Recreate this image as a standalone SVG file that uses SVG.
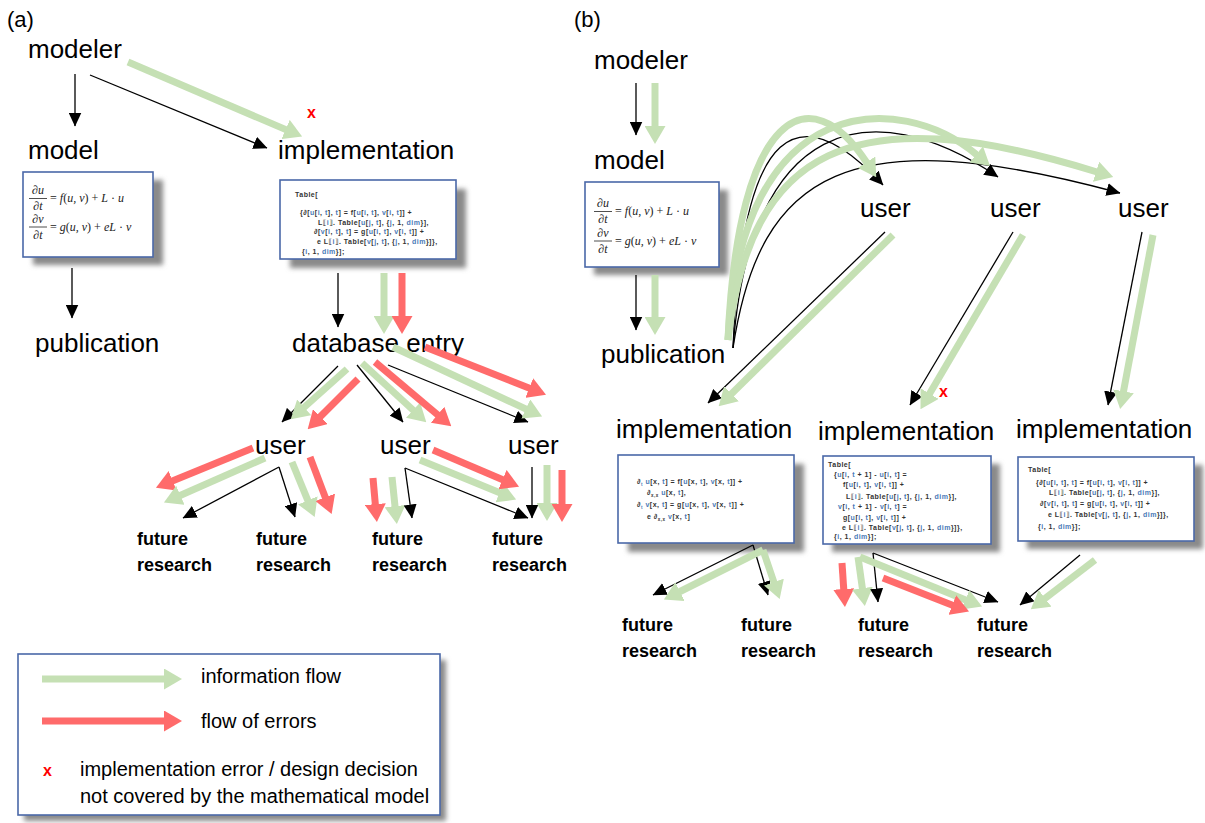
<svg xmlns="http://www.w3.org/2000/svg" width="1205" height="823" viewBox="0 0 1205 823">
<style>
.lbl{font-family:"Liberation Sans",Arial,sans-serif;font-size:26px;fill:#000}
.pl{font-family:"Liberation Sans",Arial,sans-serif;font-size:22px;fill:#000}
.fr{font-family:"Liberation Sans",Arial,sans-serif;font-size:18px;font-weight:bold;fill:#000}
.leg{font-family:"Liberation Sans",Arial,sans-serif;font-size:20px;fill:#000}
.box{fill:#fff;stroke:#4a68a8;stroke-width:1.6}
.shd{fill:#8a8a8a;filter:url(#sh)}
.k{stroke:#000;stroke-width:1.3;fill:none;marker-end:url(#ak)}
.g{stroke:#c5e0b4;stroke-width:7;fill:none;marker-end:url(#ag)}
.r{stroke:#ff6b6b;stroke-width:7;fill:none;marker-end:url(#ar)}
.cd{font-family:"Liberation Sans","DejaVu Sans",sans-serif;font-size:7px;font-weight:bold;letter-spacing:0.5px;fill:#333}
.v{fill:#4a7ab8}
.eq{font-family:"Liberation Serif","DejaVu Serif",serif;font-size:12px;font-style:italic;fill:#222}
.fl{stroke:#222;stroke-width:0.8}
.x{font-family:"Liberation Sans",Arial,sans-serif;font-size:16px;font-weight:bold;fill:#f00}
</style>
<defs>
<filter id="sh" x="-20%" y="-20%" width="140%" height="140%"><feGaussianBlur stdDeviation="2.5"/></filter>
<marker id="ak" markerUnits="userSpaceOnUse" markerWidth="14" markerHeight="13" viewBox="0 0 14 13" refX="13.5" refY="6.5" orient="auto"><path d="M0,0 L14,6.5 L0,13 z" fill="#000"/></marker>
<marker id="ag" markerUnits="userSpaceOnUse" markerWidth="18" markerHeight="21" viewBox="0 0 18 21" refX="1" refY="10.5" orient="auto"><path d="M0,0 L18,10.5 L0,21 z" fill="#c5e0b4"/></marker>
<marker id="ar" markerUnits="userSpaceOnUse" markerWidth="18" markerHeight="21" viewBox="0 0 18 21" refX="1" refY="10.5" orient="auto"><path d="M0,0 L18,10.5 L0,21 z" fill="#ff6b6b"/></marker>
</defs>
<rect width="1205" height="823" fill="#fff"/>

<text class="pl" x="7" y="27">(a)</text>
<text class="pl" x="574" y="27">(b)</text>

<!-- panel (a) nodes -->
<g id="a-modeler"><text class="lbl" x="28" y="58">modeler</text></g>
<g id="a-model"><text class="lbl" x="28" y="159">model</text></g>
<g id="a-model-eq">
<rect class="shd" x="33" y="180" width="130" height="85"/>
<rect class="box" x="23" y="172" width="130" height="85"/>
<text class="eq" x="38" y="194" text-anchor="middle">∂u</text>
<line class="fl" x1="29" y1="198.5" x2="47" y2="198.5"/>
<text class="eq" x="38" y="209.5" text-anchor="middle">∂t</text>
<text class="eq" x="50" y="202"><tspan font-style="normal">= </tspan>f<tspan font-style="normal">(</tspan>u, v<tspan font-style="normal">) + </tspan>L<tspan font-style="normal"> · </tspan>u</text>
<text class="eq" x="38" y="223" text-anchor="middle">∂v</text>
<line class="fl" x1="29" y1="227" x2="47" y2="227"/>
<text class="eq" x="38" y="238.5" text-anchor="middle">∂t</text>
<text class="eq" x="50" y="231"><tspan font-style="normal">= </tspan>g<tspan font-style="normal">(</tspan>u, v<tspan font-style="normal">) + </tspan>eL<tspan font-style="normal"> · </tspan>v</text>
</g>
<g id="a-implementation"><text class="lbl" x="278" y="159">implementation</text></g>
<g id="a-impl-code">
<rect class="shd" x="290" y="189" width="176" height="79"/>
<rect class="box" x="280" y="180" width="176" height="79"/>
<text class="cd" x="295" y="197">Table[</text>
<text class="cd" x="300" y="215">{∂[<tspan class="v">u</tspan>[<tspan class="v">i</tspan>, <tspan class="v">t</tspan>], <tspan class="v">t</tspan>] = f[<tspan class="v">u</tspan>[<tspan class="v">i</tspan>, <tspan class="v">t</tspan>], <tspan class="v">v</tspan>[<tspan class="v">i</tspan>, <tspan class="v">t</tspan>]] +</text>
<text class="cd" x="318" y="225">L⟦<tspan class="v">i</tspan>⟧. Table[<tspan class="v">u</tspan>[<tspan class="v">j</tspan>, <tspan class="v">t</tspan>], {<tspan class="v">j</tspan>, 1, <tspan class="v">dim</tspan>}],</text>
<text class="cd" x="314" y="234">∂[<tspan class="v">v</tspan>[<tspan class="v">i</tspan>, <tspan class="v">t</tspan>], <tspan class="v">t</tspan>] = g[<tspan class="v">u</tspan>[<tspan class="v">i</tspan>, <tspan class="v">t</tspan>], <tspan class="v">v</tspan>[<tspan class="v">i</tspan>, <tspan class="v">t</tspan>]] +</text>
<text class="cd" x="317" y="244">e L⟦<tspan class="v">i</tspan>⟧. Table[<tspan class="v">v</tspan>[<tspan class="v">j</tspan>, <tspan class="v">t</tspan>], {<tspan class="v">j</tspan>, 1, <tspan class="v">dim</tspan>}]},</text>
<text class="cd" x="302" y="254">{<tspan class="v">i</tspan>, 1, <tspan class="v">dim</tspan>}];</text>
</g>
<g id="a-publication"><text class="lbl" x="35" y="352">publication</text></g>
<g id="a-database"><text class="lbl" x="292" y="352">database entry</text></g>
<g id="a-user1"><text class="lbl" x="255" y="454">user</text></g>
<g id="a-user2"><text class="lbl" x="380" y="454">user</text></g>
<g id="a-user3"><text class="lbl" x="508" y="454">user</text></g>
<g id="a-fr1"><text class="fr" x="137" y="545">future</text><text class="fr" x="137" y="571">research</text></g>
<g id="a-fr2"><text class="fr" x="256" y="545">future</text><text class="fr" x="256" y="571">research</text></g>
<g id="a-fr3"><text class="fr" x="372" y="545">future</text><text class="fr" x="372" y="571">research</text></g>
<g id="a-fr4"><text class="fr" x="492" y="545">future</text><text class="fr" x="492" y="571">research</text></g>
<text class="x" x="307" y="118">x</text>

<!-- panel (b) nodes -->
<g id="b-modeler"><text class="lbl" x="594" y="69">modeler</text></g>
<g id="b-model"><text class="lbl" x="594" y="169">model</text></g>
<g id="b-model-eq">
<rect class="shd" x="594" y="190" width="134" height="85"/>
<rect class="box" x="585" y="182" width="134" height="85"/>
<text class="eq" x="603" y="207" text-anchor="middle">∂u</text>
<line class="fl" x1="594" y1="211.5" x2="612" y2="211.5"/>
<text class="eq" x="603" y="222.5" text-anchor="middle">∂t</text>
<text class="eq" x="615" y="215"><tspan font-style="normal">= </tspan>f<tspan font-style="normal">(</tspan>u, v<tspan font-style="normal">) + </tspan>L<tspan font-style="normal"> · </tspan>u</text>
<text class="eq" x="603" y="237" text-anchor="middle">∂v</text>
<line class="fl" x1="594" y1="241" x2="612" y2="241"/>
<text class="eq" x="603" y="252.5" text-anchor="middle">∂t</text>
<text class="eq" x="615" y="245"><tspan font-style="normal">= </tspan>g<tspan font-style="normal">(</tspan>u, v<tspan font-style="normal">) + </tspan>eL<tspan font-style="normal"> · </tspan>v</text>
</g>
<g id="b-publication"><text class="lbl" x="601" y="363">publication</text></g>
<g id="b-user1"><text class="lbl" x="860" y="217">user</text></g>
<g id="b-user2"><text class="lbl" x="990" y="217">user</text></g>
<g id="b-user3"><text class="lbl" x="1118" y="217">user</text></g>
<g id="b-impl1"><text class="lbl" x="616" y="438">implementation</text></g>
<g id="b-impl2"><text class="lbl" x="818" y="440">implementation</text></g>
<g id="b-impl3"><text class="lbl" x="1016" y="438">implementation</text></g>
<g id="b-code1">
<rect class="shd" x="628" y="464" width="176" height="88"/>
<rect class="box" x="618" y="455" width="176" height="88"/>
<text class="cd" x="637" y="484">∂<tspan font-size="4.5" dy="1.5" class="v">t</tspan><tspan dy="-1.5"> </tspan><tspan class="v">u</tspan>[x, <tspan class="v">t</tspan>] = f[<tspan class="v">u</tspan>[x, <tspan class="v">t</tspan>], <tspan class="v">v</tspan>[x, <tspan class="v">t</tspan>]] +</text>
<text class="cd" x="647" y="495">∂<tspan font-size="4.5" dy="1.5">x,x</tspan><tspan dy="-1.5"> </tspan><tspan class="v">u</tspan>[x, <tspan class="v">t</tspan>],</text>
<text class="cd" x="637" y="507">∂<tspan font-size="4.5" dy="1.5" class="v">t</tspan><tspan dy="-1.5"> </tspan><tspan class="v">v</tspan>[x, <tspan class="v">t</tspan>] = g[<tspan class="v">u</tspan>[x, <tspan class="v">t</tspan>], <tspan class="v">v</tspan>[x, <tspan class="v">t</tspan>]] +</text>
<text class="cd" x="647" y="519">e ∂<tspan font-size="4.5" dy="1.5">x,x</tspan><tspan dy="-1.5"> </tspan><tspan class="v">v</tspan>[x, <tspan class="v">t</tspan>]</text>
</g>
<g id="b-code2">
<rect class="shd" x="832" y="464" width="168" height="88"/>
<rect class="box" x="823" y="456" width="168" height="88"/>
<text class="cd" x="828" y="467">Table[</text>
<text class="cd" x="834" y="477">{<tspan class="v">u</tspan>[<tspan class="v">i</tspan>, <tspan class="v">t</tspan> + 1] - <tspan class="v">u</tspan>[<tspan class="v">i</tspan>, <tspan class="v">t</tspan>] =</text>
<text class="cd" x="843" y="487">f[<tspan class="v">u</tspan>[<tspan class="v">i</tspan>, <tspan class="v">t</tspan>], <tspan class="v">v</tspan>[<tspan class="v">i</tspan>, <tspan class="v">t</tspan>]] +</text>
<text class="cd" x="846" y="499">L⟦<tspan class="v">i</tspan>⟧. Table[<tspan class="v">u</tspan>[<tspan class="v">j</tspan>, <tspan class="v">t</tspan>], {<tspan class="v">j</tspan>, 1, <tspan class="v">dim</tspan>}],</text>
<text class="cd" x="838" y="509"><tspan class="v">v</tspan>[<tspan class="v">i</tspan>, <tspan class="v">t</tspan> + 1] - <tspan class="v">v</tspan>[<tspan class="v">i</tspan>, <tspan class="v">t</tspan>] =</text>
<text class="cd" x="843" y="520">g[<tspan class="v">u</tspan>[<tspan class="v">i</tspan>, <tspan class="v">t</tspan>], <tspan class="v">v</tspan>[<tspan class="v">i</tspan>, <tspan class="v">t</tspan>]] +</text>
<text class="cd" x="842" y="530">e L⟦<tspan class="v">i</tspan>⟧. Table[<tspan class="v">v</tspan>[<tspan class="v">j</tspan>, <tspan class="v">t</tspan>], {<tspan class="v">j</tspan>, 1, <tspan class="v">dim</tspan>}]},</text>
<text class="cd" x="834" y="539">{<tspan class="v">i</tspan>, 1, <tspan class="v">dim</tspan>}];</text>
</g>
<g id="b-code3">
<rect class="shd" x="1027" y="465" width="176" height="84"/>
<rect class="box" x="1018" y="457" width="176" height="84"/>
<text class="cd" x="1028" y="472">Table[</text>
<text class="cd" x="1036" y="485">{∂[<tspan class="v">u</tspan>[<tspan class="v">i</tspan>, <tspan class="v">t</tspan>], <tspan class="v">t</tspan>] = f[<tspan class="v">u</tspan>[<tspan class="v">i</tspan>, <tspan class="v">t</tspan>], <tspan class="v">v</tspan>[<tspan class="v">i</tspan>, <tspan class="v">t</tspan>]] +</text>
<text class="cd" x="1049" y="495">L⟦<tspan class="v">i</tspan>⟧. Table[<tspan class="v">u</tspan>[<tspan class="v">j</tspan>, <tspan class="v">t</tspan>], {<tspan class="v">j</tspan>, 1, <tspan class="v">dim</tspan>}],</text>
<text class="cd" x="1040" y="506">∂[<tspan class="v">v</tspan>[<tspan class="v">i</tspan>, <tspan class="v">t</tspan>], <tspan class="v">t</tspan>] = g[<tspan class="v">u</tspan>[<tspan class="v">i</tspan>, <tspan class="v">t</tspan>], <tspan class="v">v</tspan>[<tspan class="v">i</tspan>, <tspan class="v">t</tspan>]] +</text>
<text class="cd" x="1048" y="517">e L⟦<tspan class="v">i</tspan>⟧. Table[<tspan class="v">v</tspan>[<tspan class="v">j</tspan>, <tspan class="v">t</tspan>], {<tspan class="v">j</tspan>, 1, <tspan class="v">dim</tspan>}]},</text>
<text class="cd" x="1038" y="529">{<tspan class="v">i</tspan>, 1, <tspan class="v">dim</tspan>}];</text>
</g>
<g id="b-fr1"><text class="fr" x="622" y="631">future</text><text class="fr" x="622" y="657">research</text></g>
<g id="b-fr2"><text class="fr" x="741" y="631">future</text><text class="fr" x="741" y="657">research</text></g>
<g id="b-fr3"><text class="fr" x="858" y="631">future</text><text class="fr" x="858" y="657">research</text></g>
<g id="b-fr4"><text class="fr" x="977" y="631">future</text><text class="fr" x="977" y="657">research</text></g>
<text class="x" x="939" y="397">x</text>

<!-- connectors -->
<g id="connectors">
<!-- (a) -->
<line class="k" x1="75" y1="74" x2="75" y2="126"/>
<line class="k" x1="90" y1="75" x2="267" y2="148"/>
<line class="g" x1="128" y1="62" x2="286.5" y2="129.9"/>
<line class="k" x1="72" y1="268" x2="72" y2="318"/>
<line class="k" x1="338" y1="273" x2="338" y2="327"/>
<line class="g" x1="384" y1="273" x2="384" y2="317"/>
<line class="r" x1="402" y1="273" x2="402" y2="317"/>
<line class="k" x1="338" y1="366" x2="282" y2="422"/>
<line class="g" x1="347" y1="369" x2="303.4" y2="408"/>
<line class="r" x1="358" y1="379" x2="319.7" y2="417.3"/>
<line class="k" x1="357" y1="365" x2="403" y2="422"/>
<line class="g" x1="362" y1="363" x2="413.8" y2="410.8"/>
<line class="r" x1="375" y1="362" x2="438.3" y2="415.4"/>
<line class="k" x1="388" y1="365" x2="528" y2="422"/>
<line class="g" x1="393" y1="347" x2="526.7" y2="409.4"/>
<line class="r" x1="425" y1="347" x2="530.2" y2="388.4"/>
<line class="r" x1="253" y1="448" x2="171.7" y2="481.2"/>
<line class="g" x1="265" y1="458" x2="179.5" y2="495.7"/>
<line class="k" x1="279" y1="467" x2="183" y2="518"/>
<line class="k" x1="279" y1="467" x2="295" y2="517"/>
<line class="g" x1="292" y1="462" x2="308.2" y2="501.3"/>
<line class="r" x1="310" y1="457" x2="325.6" y2="498.2"/>
<line class="r" x1="373" y1="478" x2="375.4" y2="505.1"/>
<line class="g" x1="392" y1="477" x2="395.1" y2="507.1"/>
<line class="k" x1="405" y1="468" x2="412" y2="518"/>
<line class="k" x1="405" y1="468" x2="528" y2="518"/>
<line class="g" x1="420" y1="460" x2="500.4" y2="493.1"/>
<line class="r" x1="433" y1="450" x2="503.4" y2="480"/>
<line class="k" x1="532" y1="467" x2="532" y2="518"/>
<line class="g" x1="547" y1="465" x2="547" y2="504"/>
<line class="r" x1="562" y1="470" x2="562" y2="505"/>
<!-- (b) -->
<line class="k" x1="636" y1="83" x2="636" y2="135"/>
<line class="g" x1="655" y1="83" x2="655" y2="127"/>
<line class="k" x1="636" y1="275" x2="636" y2="330"/>
<line class="g" x1="655" y1="275" x2="655" y2="318"/>
<path class="k" d="M733,348 C742,120 800,95 883,185"/>
<path class="k" d="M733,348 C750,120 870,90 998,177"/>
<path class="k" d="M733,348 C760,170 850,120 1120,193"/>
<path class="g" d="M728,340 C738,110 810,75 867,163"/>
<path class="g" d="M728,340 C740,90 900,90 977,155"/>
<path class="g" d="M728,340 C750,150 850,95 1097,172"/>
<line class="k" x1="885" y1="232" x2="708" y2="403"/>
<line class="g" x1="893" y1="235" x2="730.8" y2="394.4"/>
<line class="k" x1="1013" y1="232" x2="910" y2="405"/>
<line class="g" x1="1023" y1="235" x2="929.1" y2="394.5"/>
<line class="k" x1="1142" y1="232" x2="1108" y2="405"/>
<line class="g" x1="1153" y1="235" x2="1123.3" y2="392.3"/>
<line class="k" x1="753" y1="545" x2="653" y2="595"/>
<line class="k" x1="753" y1="545" x2="768" y2="595"/>
<line class="g" x1="763" y1="550" x2="679.1" y2="592"/>
<line class="g" x1="763" y1="550" x2="774.2" y2="583"/>
<line class="r" x1="842" y1="563" x2="843.8" y2="590"/>
<line class="g" x1="858" y1="557" x2="862.5" y2="589.2"/>
<line class="k" x1="873" y1="553" x2="878" y2="602"/>
<line class="k" x1="873" y1="553" x2="998" y2="602"/>
<line class="g" x1="860" y1="557" x2="966.3" y2="600.2"/>
<line class="r" x1="883" y1="578" x2="953.2" y2="605.4"/>
<line class="k" x1="1080" y1="555" x2="1020" y2="605"/>
<line class="g" x1="1095" y1="560" x2="1044.3" y2="599"/>
</g>

<!-- legend -->
<g id="legend">
<rect class="shd" x="24" y="660" width="422" height="161"/>
<rect class="box" x="18" y="654" width="422" height="161"/>
<line class="g" x1="42" y1="679" x2="165" y2="679"/>
<line class="r" x1="42" y1="721" x2="165" y2="721"/>
<text class="leg" x="201" y="683">information flow</text>
<text class="leg" x="201" y="728">flow of errors</text>
<text class="x" x="43" y="776">x</text>
<text class="leg" x="80" y="776">implementation error / design decision</text>
<text class="leg" x="80" y="803">not covered by the mathematical model</text>
</g>
</svg>
